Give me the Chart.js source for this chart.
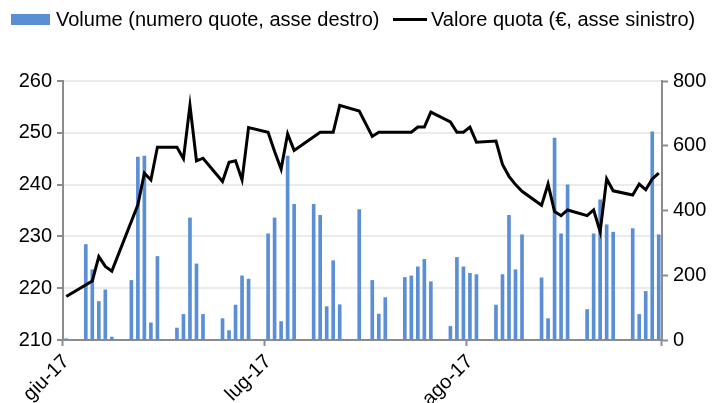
<!DOCTYPE html>
<html>
<head>
<meta charset="utf-8">
<script src="https://cdn.jsdelivr.net/npm/chart.js@4.4.0/dist/chart.umd.min.js"></script>
<style>
  body { margin: 0; background: #fff; }
  #wrap { position: relative; width: 715px; height: 403px; font-family: 'Liberation Sans', Arial, sans-serif; }
  #chart { position: absolute; left: 0; top: 0; }
  .leg { position: absolute; top: 7px; font-size: 20px; line-height: 24px; color: #000; white-space: nowrap; }
  .sw { position: absolute; }
</style>
</head>
<body>
<div id="wrap">
  <canvas id="chart" width="715" height="403"></canvas>
  <div class="sw" style="left:11px;top:14px;width:39px;height:11px;background:#5b8fd5"></div>
  <div class="leg" style="left:56px">Volume (numero quote, asse destro)</div>
  <div class="sw" style="left:393px;top:18px;width:34px;height:3px;background:#000"></div>
  <div class="leg" style="left:431px">Valore quota (€, asse sinistro)</div>
</div>
<script>
// Giorni di calendario dal 2 giugno 2017 (weekend senza dati)
const firstDay = [2017, 5, 2];
const dayCount = 92;

// Etichette mese sull'asse x
const tickIndex = [0, 31, 62];
const tickText = ['giu-17', 'lug-17', 'ago-17'];

// Volume (numero quote, asse destro)
const volume = [
  4, null, null, 295, 217, 119, 155, 9, null, null,
  184, 565, 568, 53, 258, null, null, 37, 79, 377,
  235, 79, null, null, 66, 29, 108, 198, 188, null,
  null, 328, 377, 57, 568, 419, null, null, 419, 385,
  103, 245, 109, null, null, 403, null, 184, 80, 131,
  null, null, 193, 198, 226, 249, 180, null, null, 42,
  255, 226, 206, 202, null, null, 108, 202, 385, 217,
  325, null, null, 192, 66, 624, 328, 479, null, null,
  94, 328, 433, 356, 333, null, null, 344, 79, 150,
  643, 325
];

// Valore quota (€, asse sinistro)
const quota = [
  218.4, null, null, null, 221.4, 226.1, 224.2, 223.3, null, null,
  null, 236.1, 242.2, 240.9, 247.2, null, null, 247.2, 245.0, 255.3,
  244.6, 245.1, null, null, 240.6, 244.3, 244.6, 240.9, 251.0, null,
  null, 250.1, 246.4, 243.0, 249.8, 246.6, null, null, null, 250.1,
  250.1, 250.1, 255.3, null, null, 254.2, null, 249.3, 250.1, 250.1,
  null, null, 250.1, 250.1, 251.1, 251.1, 254.0, null, null, 252.1,
  250.1, 250.1, 251.1, 248.2, null, null, 248.4, 243.9, 241.6, 240.0,
  238.7, null, null, 236.0, 240.1, 234.8, 234.0, 235.1, null, null,
  234.0, 235.1, 230.9, 241.1, 238.8, null, null, 238.0, 240.1, 239.0,
  241.1, 242.2
];

const days = [];
for (let i = 0; i < dayCount; i++) {
    const d = new Date(firstDay[0], firstDay[1], firstDay[2] + i);
    days.push(d.getFullYear() + '-' + String(d.getMonth() + 1).padStart(2, '0') + '-' + String(d.getDate()).padStart(2, '0'));
}

const axisGrey = '#8c8c8c';
const font = { family: "'Liberation Sans', Arial, sans-serif", size: 20 };

new Chart(document.getElementById('chart'), {
    data: {
        labels: days,
        datasets: [
            {
                type: 'bar',
                label: 'Volume (numero quote, asse destro)',
                data: volume,
                yAxisID: 'y1',
                backgroundColor: '#5b8fd5',
                barThickness: 3,
                order: 1
            },
            {
                type: 'line',
                label: 'Valore quota (€, asse sinistro)',
                data: quota,
                yAxisID: 'y',
                borderColor: '#000',
                borderWidth: 3,
                pointRadius: 0,
                tension: 0,
                spanGaps: true,
                order: 0
            }
        ]
    },
    options: {
        responsive: false,
        animation: false,
        layout: { padding: { top: 81, left: 0, right: 0, bottom: 0 } },
        plugins: { legend: { display: false }, tooltip: { enabled: false } },
        scales: {
            x: {
                offset: true,
                afterFit: s => { s.height = 63; },
                border: { color: axisGrey, width: 2 },
                grid: {
                    offset: true,
                    drawOnChartArea: false,
                    tickLength: 6,
                    tickWidth: 2,
                    tickColor: ctx => (ctx.index === undefined || tickIndex.includes(ctx.index)) ? axisGrey : 'rgba(0,0,0,0)'
                },
                ticks: {
                    autoSkip: false,
                    minRotation: 45,
                    maxRotation: 45,
                    padding: 4,
                    color: '#000',
                    font: font,
                    callback: (v, i) => {
                        const k = tickIndex.indexOf(i);
                        return k >= 0 ? tickText[k] : '';
                    }
                }
            },
            y: {
                position: 'left',
                min: 210,
                max: 260,
                afterFit: s => { s.width = 63; },
                border: { color: axisGrey, width: 2 },
                grid: {
                    color: '#ebebeb',
                    lineWidth: 2,
                    tickColor: axisGrey,
                    tickLength: 6,
                    tickWidth: 2
                },
                ticks: { stepSize: 10, padding: 5, color: '#000', font: font }
            },
            y1: {
                position: 'right',
                min: 0,
                max: 800,
                afterFit: s => { s.width = 53; },
                border: { color: axisGrey, width: 2 },
                grid: {
                    drawOnChartArea: false,
                    tickColor: axisGrey,
                    tickLength: 6,
                    tickWidth: 2
                },
                ticks: { stepSize: 200, padding: 5, color: '#000', font: font }
            }
        }
    }
});
</script>
</body>
</html>
